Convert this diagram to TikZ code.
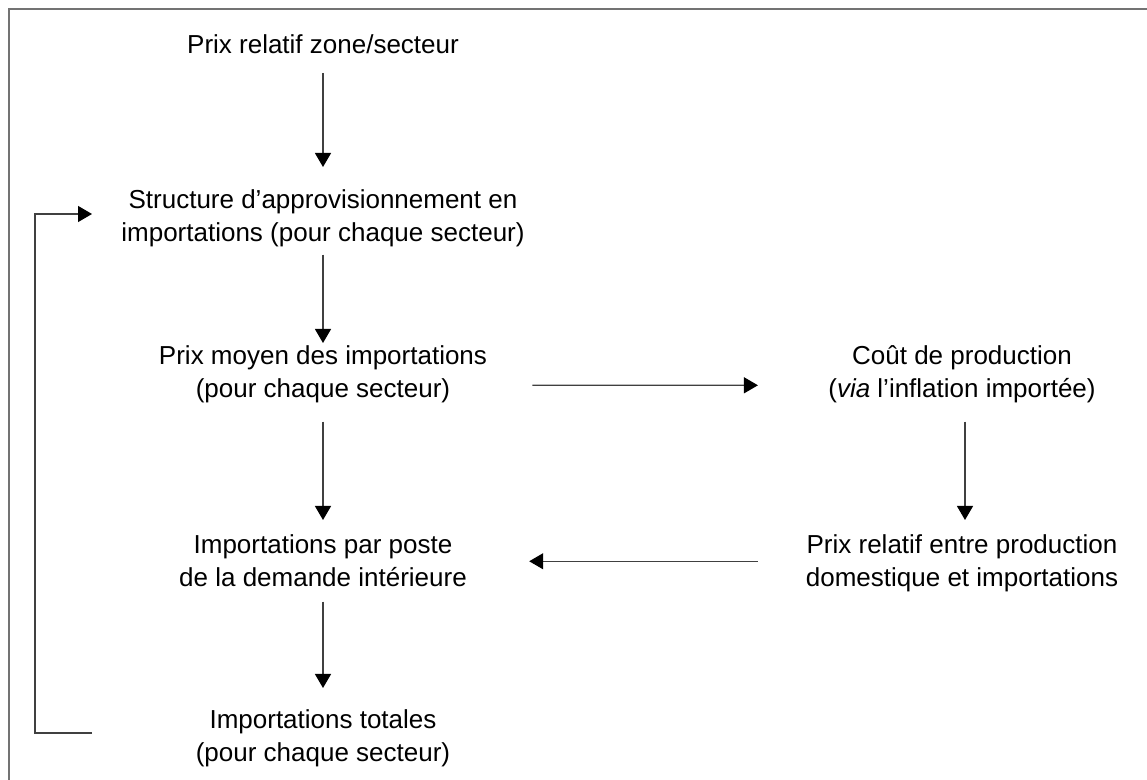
\documentclass[tikz,border=0pt]{standalone}
\usepackage{fontspec}
\setmainfont{Liberation Sans}
\usetikzlibrary{arrows.meta}
\begin{document}
\begin{tikzpicture}[x=0.5pt,y=-0.5pt,font=\fontsize{13}{16.5}\selectfont,
  txt/.style={align=center,inner sep=0pt,anchor=north,
    execute at begin node=\strut,execute at end node=\strut},
  arr/.style={draw=black!75,line width=0.6pt,
    -{Triangle[length=7pt,width=8pt,color=black]}}]
  \useasboundingbox (0,0) rectangle (1147,780);
  \draw[black!55,line width=1pt] (9,790) -- (9,9) -- (1160,9);
  \node[txt] (zone) at (323,30) {Prix relatif zone/secteur};
  \node[txt] (struct) at (323,189) {Structure d’approvisionnement en\\importations (pour chaque secteur)};
  \node[txt] (moy) at (323,345) {Prix moyen des importations\\(pour chaque secteur)};
  \node[txt] (cout) at (962,345) {Coût de production\\(\textit{via} l’inflation importée)};
  \node[txt] (rel) at (962,534) {Prix relatif entre production\\domestique et importations};
  \node[txt] (poste) at (323,534) {Importations par poste\\de la demande intérieure};
  \node[txt] (tot) at (323,709) {Importations totales\\(pour chaque secteur)};
  \coordinate (fbout) at (92,733);
  \coordinate (fbin) at (92,214);
  \draw[arr,shorten <=4.5pt,shorten >=11pt] (zone.south) -- (struct.north);
  \draw[arr,shorten <=1.5pt,shorten >=1pt] (struct.south) -- (moy.north);
  \draw[arr,shorten <=7pt,shorten >=7pt] (moy.south) -- (poste.north);
  \draw[arr,shorten <=7pt,shorten >=7pt] ([xshift=1.5pt]cout.south) -- ([xshift=1.5pt]rel.north);
  \draw[arr,shorten <=2.5pt,shorten >=10.5pt] (poste.south) -- (tot.north);
  \draw[arr,shorten <=22.5pt,shorten >=35pt] ([yshift=-4.5pt]moy.east) -- ([yshift=-4.5pt]cout.west);
  \draw[arr,shorten <=24pt,shorten >=31pt] ([yshift=2pt]rel.west) -- ([yshift=2pt]poste.east);
  \draw[arr] (fbout) -- ++(-57,0) |- (fbin);
\end{tikzpicture}
\end{document}
